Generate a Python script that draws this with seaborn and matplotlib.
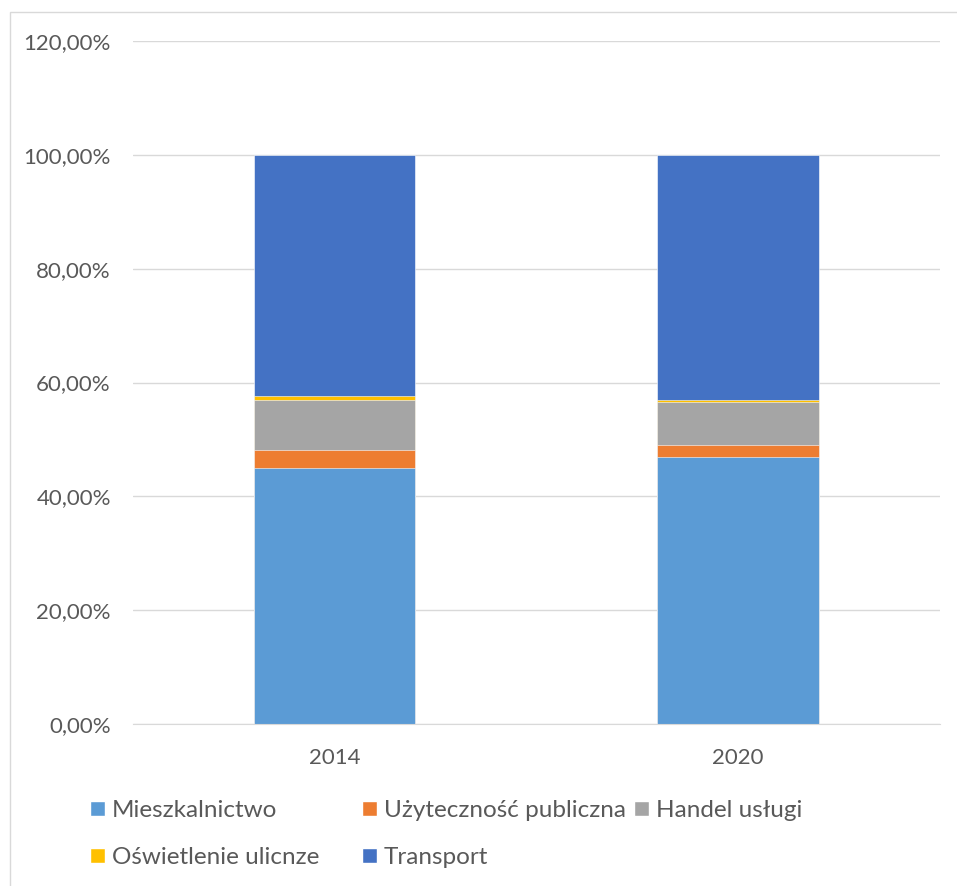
import pandas as pd
import seaborn as sns
import matplotlib.pyplot as plt
from matplotlib.ticker import FuncFormatter
from matplotlib.patches import Patch, Rectangle

# dane (udział procentowy)
years = ['2014', '2020']
sectors = ['Mieszkalnictwo', 'Użyteczność publiczna', 'Handel usługi',
           'Oświetlenie ulicnze', 'Transport']
mieszkalnictwo = [45.0, 47.0]
uzytecznosc = [3.1, 2.1]
handel = [8.9, 7.5]
oswietlenie = [0.7, 0.3]
transport = [42.3, 43.1]
colors = ['#5B9BD5', '#ED7D31', '#A5A5A5', '#FFC000', '#4472C4']

df = pd.DataFrame({
    'year': years,
    'Mieszkalnictwo': mieszkalnictwo,
    'Użyteczność publiczna': uzytecznosc,
    'Handel usługi': handel,
    'Oświetlenie ulicnze': oswietlenie,
    'Transport': transport,
})
# suma skumulowana -> słupki rysowane od najwyższego
cum = df[sectors].cumsum(axis=1) / 100
cum['year'] = df['year']

sns.set_style('white')
plt.rcParams['font.family'] = ['Lato', 'DejaVu Sans']

fig = plt.figure(figsize=(9.57, 8.86), dpi=100)
ax = fig.add_axes([0.139, 0.1828, 0.843, 0.7709])

for sector, color in reversed(list(zip(sectors, colors))):
    sns.barplot(data=cum, x='year', y=sector, color=color, width=0.4,
                saturation=1, ax=ax, edgecolor='white', linewidth=0.4)

ax.set_ylim(0, 1.2)
ax.set_yticks([0, 0.2, 0.4, 0.6, 0.8, 1.0, 1.2])
ax.yaxis.set_major_formatter(FuncFormatter(lambda v, p: f'{v*100:.2f}%'.replace('.', ',')))
ax.set_xlabel('')
ax.set_ylabel('')
ax.grid(axis='y', color='#D9D9D9', linewidth=1)
ax.set_axisbelow(True)
for s in ['top', 'right', 'left']:
    ax.spines[s].set_visible(False)
ax.spines['bottom'].set_color('#D9D9D9')
ax.tick_params(axis='both', colors='#595959', labelsize=16, length=0)
ax.tick_params(axis='y', pad=16)
ax.tick_params(axis='x', pad=17)

# legenda - trzy kolumny o równej szerokości jak w Excelu
columns = [[0, 3], [1, 4], [2]]
col_x = [90 / 957, 362 / 957, 634 / 957]
for idx, x in zip(columns, col_x):
    handles = [Patch(facecolor=colors[i], label=sectors[i]) for i in idx]
    leg = fig.legend(handles=handles, loc='upper left',
                     bbox_to_anchor=(x, 0.097), frameon=False,
                     fontsize=17.5, handlelength=0.6, handleheight=0.6,
                     handletextpad=0.3, labelspacing=1.08,
                     borderpad=0, borderaxespad=0)
    for t in leg.get_texts():
        t.set_color('#595959')

# ramka wykresu
fig.patches.append(Rectangle((10 / 957, -0.1), 1.2, 1.1 - 12 / 886,
                             transform=fig.transFigure, fill=False,
                             edgecolor='#D9D9D9', linewidth=1))

fig.savefig('out.png', dpi=100)
